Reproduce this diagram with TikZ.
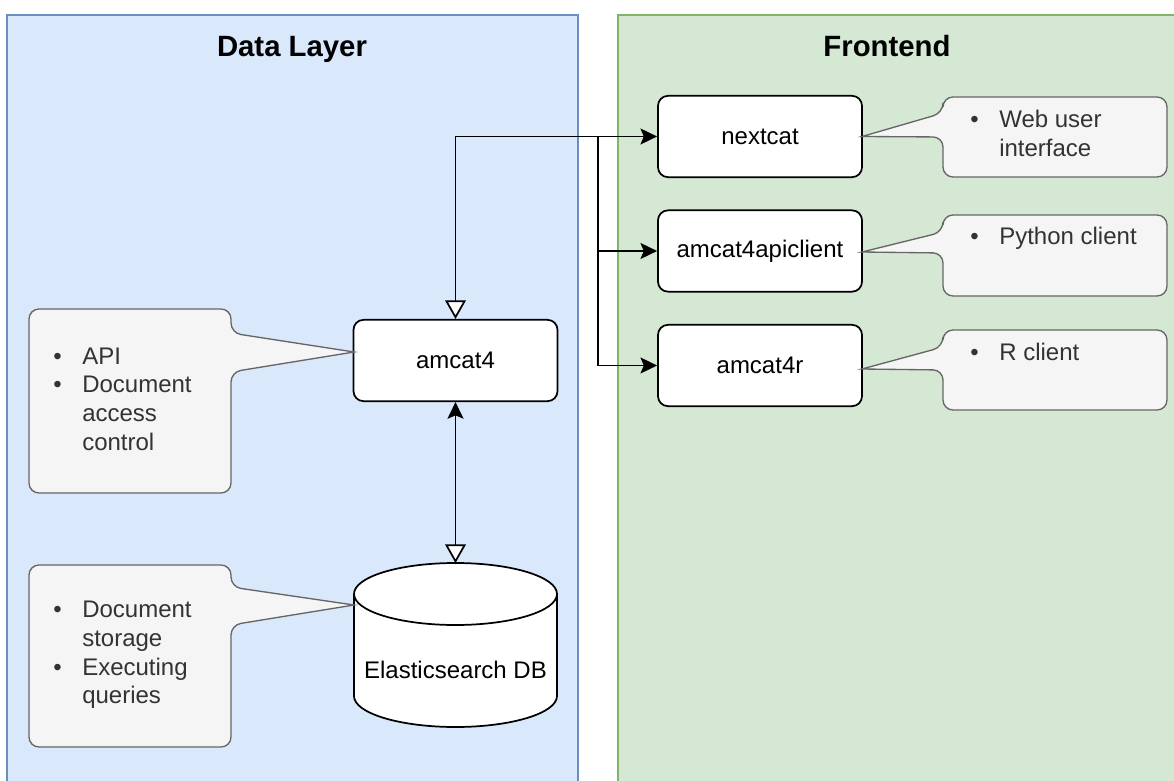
\documentclass[tikz,border=0pt]{standalone}
\usepackage{fontspec}
\setmainfont{Liberation Sans}
\usetikzlibrary{arrows.meta}
\definecolor{datafill}{HTML}{DAE8FC}
\definecolor{dataline}{HTML}{6C8EBF}
\definecolor{frontfill}{HTML}{D5E8D4}
\definecolor{frontline}{HTML}{82B366}
\definecolor{notefill}{HTML}{F5F5F5}
\definecolor{noteline}{HTML}{666666}
\definecolor{notegray}{HTML}{333333}
\begin{document}
\begin{tikzpicture}[x=0.75pt, y=-0.75pt,
    layer/.style={line width=1pt},
    title/.style={anchor=base, font=\fontsize{22}{26}\selectfont\bfseries},
    comp/.style={draw, line width=1.3pt, fill=white, rounded corners=7.5pt, minimum width=153pt, minimum height=61pt, inner sep=0pt, font=\fontsize{18}{21.6}\selectfont},
    note/.style={draw=noteline, fill=notefill, line width=1pt},
    notelabel/.style={anchor=west, inner sep=0pt, text=notegray, font=\fontsize{18}{21.6}\selectfont},
    link/.style={line width=1.3pt},
    tip/.style={-{Stealth[length=12.5pt, width=12pt, inset=2.5pt]}},
    opentip/.style={{Triangle[open, fill=white, length=14pt, width=15.5pt]}-{Stealth[length=12.5pt, width=12pt, inset=2.5pt]}},
    uptip/.style={{Stealth[length=12.5pt, width=12pt, inset=2.5pt]}-{Triangle[open, fill=white, length=14pt, width=15.5pt]}}]
  \useasboundingbox (0,0) rectangle (1174,781);
  \draw[layer, fill=datafill, draw=dataline] (7,15) rectangle (578,800);
  \draw[layer, fill=frontfill, draw=frontline] (618,15) rectangle (1200,800);
  \node[title] (datatitle) at (292,57) {Data Layer};
  \node[title] (fronttitle) at (887,57) {Frontend};

  \node[comp] (amcat4) at (455.5,360.5) {amcat4};
  \node[comp] (nextcat) at (760,136.5) {nextcat};
  \node[comp] (apiclient) at (760,251) {amcat4apiclient};
  \node[comp] (amcat4r) at (760,365.5) {amcat4r};

  \draw[line width=1.3pt, fill=white] (354,594) -- (354,696) arc[start angle=180, end angle=0, x radius=101.5, y radius=31] -- (557,594) arc[start angle=0, end angle=-180, x radius=101.5, y radius=31] -- cycle;
  \draw[line width=1.3pt] (354,594) arc[start angle=180, end angle=0, x radius=101.5, y radius=31];
  \node[inner sep=0pt, font=\fontsize{18}{21.6}\selectfont] (esdb) at (455.5,670) {Elasticsearch DB};
  \coordinate (esdbtop) at (455.5,563);

  \draw[note] (130,309) [rounded corners=7.5pt] -- (231,309) -- (231,333) [sharp corners] -- (354,352) [rounded corners=7.5pt] -- (231,372) -- (231,493) -- (29,493) -- (29,309) -- cycle;
  \draw[note] (130,565) [rounded corners=7.5pt] -- (231,565) -- (231,587) [sharp corners] -- (354,605) [rounded corners=7.5pt] -- (231,625) -- (231,747) -- (29,747) -- (29,565) -- cycle;
  \draw[note] (1055,97) [rounded corners=7.5pt] -- (1167,97) -- (1167,177) -- (943,177) -- (943,137) [sharp corners] -- (862,136.5) [rounded corners=7.5pt] -- (943,113) -- (943,97) -- cycle;
  \draw[note] (1055,215) [rounded corners=7.5pt] -- (1167,215) -- (1167,296) -- (943,296) -- (943,253) [sharp corners] -- (862,252) [rounded corners=7.5pt] -- (943,232) -- (943,215) -- cycle;
  \draw[note] (1055,330) [rounded corners=7.5pt] -- (1167,330) -- (1167,410) -- (943,410) -- (943,370) [sharp corners] -- (862,369) [rounded corners=7.5pt] -- (943,347) -- (943,330) -- cycle;

  \node[notelabel] (amcat4note) at (53,401.5) {\begin{tabular}{@{}p{21.75pt}@{}l@{}}\textbullet & API\\ \textbullet & Document\\ & access\\ & control\end{tabular}};
  \node[notelabel] (esdbnote) at (53,655) {\begin{tabular}{@{}p{21.75pt}@{}l@{}}\textbullet & Document\\ & storage\\ \textbullet & Executing\\ & queries\end{tabular}};
  \node[notelabel] (nextcatnote) at (970,136) {\begin{tabular}{@{}p{21.75pt}@{}l@{}}\textbullet & Web user\\ & interface\end{tabular}};
  \node[notelabel] (apiclientnote) at (970,239) {\begin{tabular}{@{}p{21.75pt}@{}l@{}}\textbullet & Python client\end{tabular}};
  \node[notelabel] (amcat4rnote) at (970,355) {\begin{tabular}{@{}p{21.75pt}@{}l@{}}\textbullet & R client\end{tabular}};

  \draw[link, opentip] (amcat4.north) |- (nextcat.west);
  \coordinate (split) at (598,0 |- nextcat.west);
  \draw[link, tip] (split) |- (apiclient.west);
  \draw[link, tip] (split) |- (amcat4r.west);
  \draw[link, uptip] (amcat4.south) -- (esdbtop);
\end{tikzpicture}
\end{document}
